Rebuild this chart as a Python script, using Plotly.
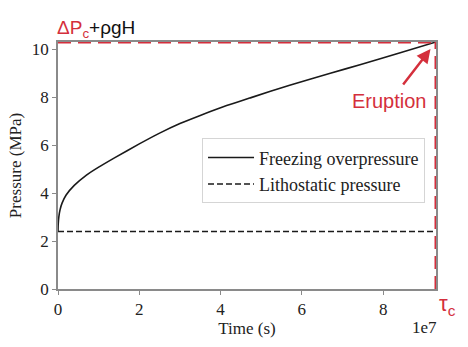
import plotly.graph_objects as go

# Freezing overpressure history (time in seconds, pressure in MPa)
time_s = [0, 0.005e7, 0.02e7, 0.05e7, 0.1e7, 0.2e7, 0.4e7, 0.7e7, 1.0e7, 1.4e7,
          2.0e7, 2.5e7, 3.0e7, 3.5e7, 4.0e7, 4.75e7, 5.7e7, 6.7e7, 7.45e7, 8.4e7, 9.3e7]
overpressure = [2.4, 2.7, 3.0, 3.3, 3.58, 3.92, 4.32, 4.75, 5.08, 5.48,
                6.05, 6.5, 6.9, 7.24, 7.56, 7.98, 8.5, 9.0, 9.36, 9.84, 10.3]

# Lithostatic pressure (constant)
litho_time = [0, 9.3e7]
litho_pressure = [2.4, 2.4]

# Critical values at eruption
tau_c = 9.3e7
p_crit = 10.3

x_tickvals = [0, 2e7, 4e7, 6e7, 8e7]
x_ticktext = ["0", "2", "4", "6", "8"]
y_tickvals = [0, 2, 4, 6, 8, 10]

RED = "#d42f3c"
SERIF = "Liberation Serif, Times New Roman, serif"
SANS = "Liberation Sans, Arial, sans-serif"

fig = go.Figure()
fig.add_trace(go.Scatter(
    x=time_s, y=overpressure, mode="lines", name="Freezing overpressure",
    line=dict(color="#1a1a1a", width=1.6, shape="spline", smoothing=0.5),
))
fig.add_trace(go.Scatter(
    x=litho_time, y=litho_pressure, mode="lines", name="Lithostatic pressure",
    line=dict(color="#1a1a1a", width=1.6, dash="6px,3px"),
))

# Red dashed frame marking critical pressure and eruption time
fig.add_shape(type="line", xref="x", yref="y", x0=0, x1=tau_c, y0=p_crit, y1=p_crit,
              line=dict(color=RED, width=3, dash="13px,7px"), layer="above")
fig.add_shape(type="line", xref="x", yref="y", x0=tau_c, x1=tau_c, y0=0, y1=p_crit,
              line=dict(color=RED, width=3, dash="13px,7px"), layer="above")

fig.add_annotation(
    xref="paper", yref="paper", x=0, y=1, xanchor="left", yanchor="bottom",
    text=f'<span style="color:{RED}">ΔP<sub>c</sub></span>+ρgH',
    showarrow=False, font=dict(family=SANS, size=19, color="#111"), yshift=-1, xshift=-3,
)
fig.add_annotation(
    xref="x", yref="y", x=tau_c, y=p_crit, ax=-34, ay=44,
    text="", showarrow=True, arrowhead=2, arrowsize=1.1, arrowwidth=2.5,
    arrowcolor=RED, standoff=9,
)
fig.add_annotation(
    xref="x", yref="y", x=tau_c, y=p_crit, xanchor="right", yanchor="top",
    text="Eruption", showarrow=False, font=dict(family=SANS, size=20, color=RED),
    xshift=-7, yshift=-46,
)
fig.add_annotation(
    xref="x", yref="paper", x=tau_c, y=0, xanchor="left", yanchor="top",
    text="τ<sub>c</sub>", showarrow=False, font=dict(family=SANS, size=22, color=RED),
    xshift=1, yshift=0,
)
fig.add_annotation(
    xref="paper", yref="paper", x=1, y=0, xanchor="right", yanchor="top",
    text="1e7", showarrow=False, font=dict(family=SERIF, size=17, color="#222"),
    yshift=-27, xshift=3,
)

axis_common = dict(
    showline=True, linecolor="#8a8a8a", linewidth=1.5, mirror=True,
    ticks="outside", ticklen=4, tickcolor="#8a8a8a", tickwidth=1,
    showgrid=False, zeroline=False,
    tickfont=dict(family=SERIF, size=17, color="#222"),
)

fig.update_layout(
    width=468, height=347,
    margin=dict(l=58, r=32, t=42, b=55),
    paper_bgcolor="white", plot_bgcolor="white",
    xaxis=dict(range=[0, tau_c], tickvals=x_tickvals, ticktext=x_ticktext,
               title=dict(text="Time (s)", standoff=4,
                          font=dict(family=SERIF, size=17, color="#222")),
               **axis_common),
    yaxis=dict(range=[0, p_crit], tickvals=y_tickvals,
               title=dict(text="Pressure (MPa)", standoff=6,
                          font=dict(family=SERIF, size=17, color="#222")),
               **axis_common),
    legend=dict(x=0.381, y=0.61, xanchor="left", yanchor="top",
                bgcolor="white", bordercolor="#d5d5d5", borderwidth=1,
                font=dict(family=SERIF, size=18, color="#222"),
                itemwidth=46, tracegroupgap=0),
    showlegend=True,
)

fig.write_html("out.html")
